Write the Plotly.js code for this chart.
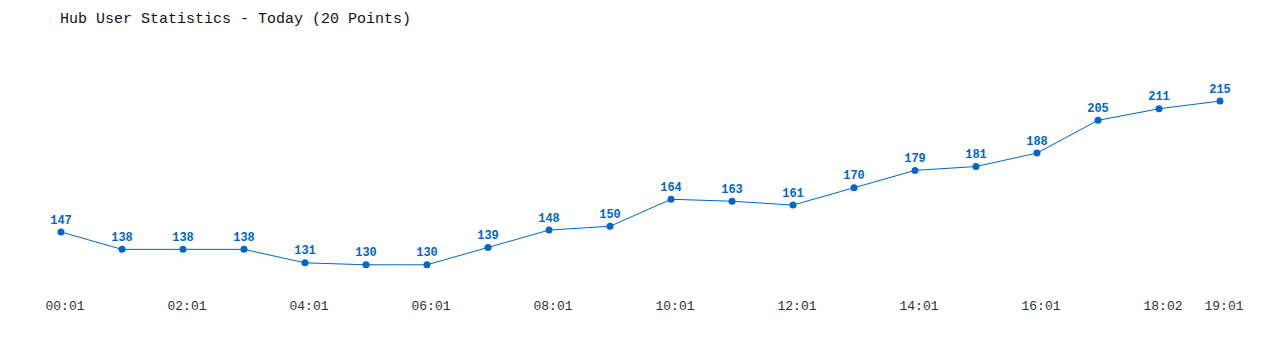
<!DOCTYPE html>
<html>
<head>
<meta charset="utf-8">
<script src="https://cdn.plot.ly/plotly-3.0.1.min.js"></script>
<style>html,body{margin:0;padding:0;background:#fff;}#chart{width:1280px;height:350px;}</style>
</head>
<body>
<div id="chart"></div>
<script>
const times = ["00:01","01:01","02:01","03:01","04:01","05:01","06:01","07:01","08:01","09:01","10:01","11:01","12:01","13:01","14:01","15:01","16:01","17:01","18:02","19:01"];
const users = [147,138,138,138,131,130,130,139,148,150,164,163,161,170,179,181,188,205,211,215];
const shownTicks = ["00:01","02:01","04:01","06:01","08:01","10:01","12:01","14:01","16:01","18:02","19:01"];

const idx = times.map((t, i) => i);
const tickIdx = shownTicks.map(t => times.indexOf(t));

const trace = {
  x: idx,
  y: users,
  type: 'scatter',
  mode: 'lines+markers+text',
  text: users.map(String),
  textposition: 'top center',
  textfont: {family: 'Liberation Mono, DejaVu Sans Mono, monospace', size: 12, color: '#0066cc', weight: 'bold'},
  line: {color: '#0066cc', width: 1},
  marker: {color: '#0066cc', size: 7},
  cliponaxis: false,
  hoverinfo: 'skip'
};

const layout = {
  width: 1280, height: 350,
  margin: {l: 61, r: 60, t: 40, b: 60},
  paper_bgcolor: '#fff', plot_bgcolor: '#fff',
  showlegend: false,
  title: {
    text: 'Hub User Statistics - Today (20 Points)',
    xref: 'container', yref: 'container',
    x: 60/1280, xanchor: 'left',
    y: 1 - 18/350, yanchor: 'middle',
    font: {family: 'Liberation Mono, DejaVu Sans Mono, monospace', size: 15, color: '#111'}
  },
  xaxis: {
    range: [0, 19],
    tickmode: 'array',
    tickvals: tickIdx,
    ticktext: shownTicks,
    showgrid: false, zeroline: false, showline: false,
    ticks: '',
    ticklabelshift: 4,
    ticklabelstandoff: 6,
    tickfont: {family: 'Liberation Mono, DejaVu Sans Mono, monospace', size: 13, color: '#333'}
  },
  yaxis: {
    range: [116.9, 246.7],
    visible: false,
    showgrid: false, zeroline: false
  }
};

Plotly.newPlot('chart', [trace], layout, {displayModeBar: false, staticPlot: true});
</script>
</body>
</html>
